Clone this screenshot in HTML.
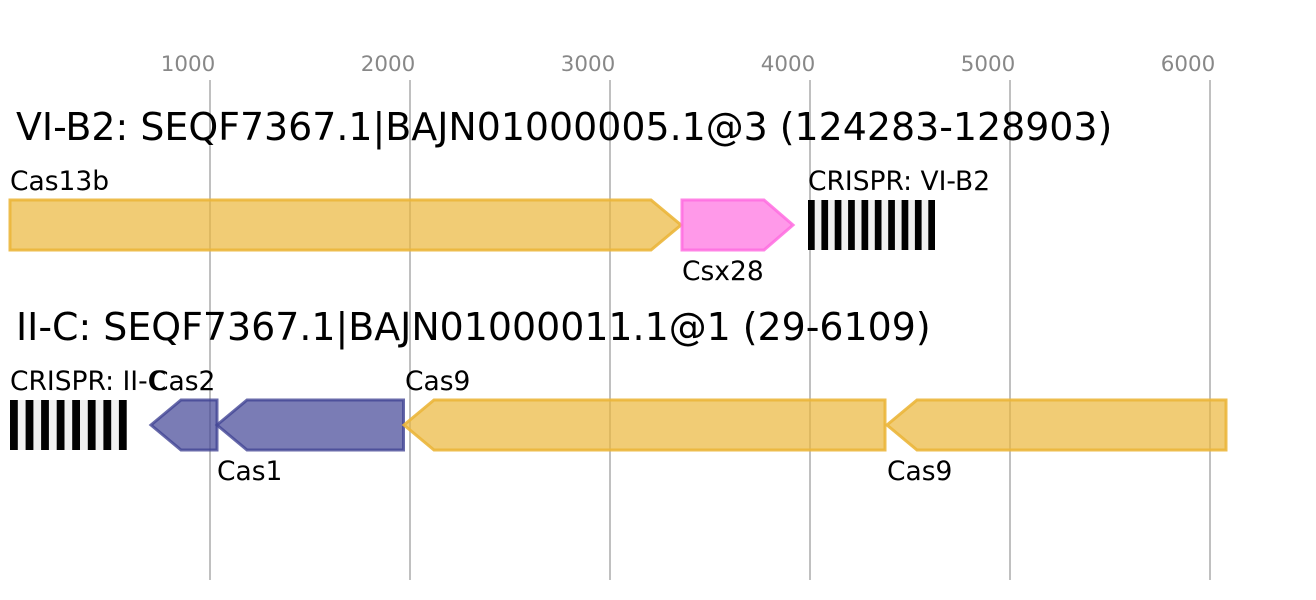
<!DOCTYPE html>
<html>
<head>
<meta charset="utf-8">
<style>
  html, body { margin: 0; padding: 0; background: #ffffff; }
  svg { display: block; }
  text { font-family: "DejaVu Sans", "Liberation Sans", sans-serif; }
</style>
</head>
<body>
<svg width="1316" height="600" viewBox="0 0 1316 600" xmlns="http://www.w3.org/2000/svg">
  <rect x="0" y="0" width="1316" height="600" fill="#ffffff"/>

  <!-- grid lines -->
  <g stroke="#c0c0c0" stroke-width="2">
    <line x1="210" y1="80" x2="210" y2="580"/>
    <line x1="410" y1="80" x2="410" y2="580"/>
    <line x1="610" y1="80" x2="610" y2="580"/>
    <line x1="810" y1="80" x2="810" y2="580"/>
    <line x1="1010" y1="80" x2="1010" y2="580"/>
    <line x1="1210" y1="80" x2="1210" y2="580"/>
  </g>

  <!-- tick labels -->
  <g fill="#888888" font-size="21.4" text-anchor="middle">
    <text x="188" y="71">1000</text>
    <text x="388" y="71">2000</text>
    <text x="588" y="71">3000</text>
    <text x="788" y="71">4000</text>
    <text x="988" y="71">5000</text>
    <text x="1188" y="71">6000</text>
  </g>

  <!-- titles -->
  <text x="16" y="140" font-size="37.9" fill="#000">VI-B2: SEQF7367.1|BAJN01000005.1@3 (124283-128903)</text>
  <text x="16" y="340" font-size="37.9" fill="#000">II-C: SEQF7367.1|BAJN01000011.1@1 (29-6109)</text>

  <!-- Row 1 genes -->
  <path d="M10,200 L651,200 L681,225 L651,250 L10,250 Z" fill="rgba(235,182,59,0.7)" stroke="rgba(235,182,59,0.9)" stroke-width="3"/>
  <path d="M682,200 L764,200 L793,225 L764,250 L682,250 Z" fill="rgba(255,109,224,0.7)" stroke="rgba(255,109,224,0.85)" stroke-width="3"/>

  <!-- Row 1 CRISPR array -->
  <rect x="808" y="200" width="127" height="50" fill="#f0f0f0"/>
  <g fill="#000">
    <rect x="808.0" y="200" width="6.7" height="50"/>
    <rect x="821.4" y="200" width="6.7" height="50"/>
    <rect x="834.7" y="200" width="6.7" height="50"/>
    <rect x="848.1" y="200" width="6.7" height="50"/>
    <rect x="861.5" y="200" width="6.7" height="50"/>
    <rect x="874.8" y="200" width="6.7" height="50"/>
    <rect x="888.2" y="200" width="6.7" height="50"/>
    <rect x="901.6" y="200" width="6.7" height="50"/>
    <rect x="914.9" y="200" width="6.7" height="50"/>
    <rect x="928.3" y="200" width="6.7" height="50"/>
  </g>

  <!-- Row 1 labels -->
  <g font-size="26.5" fill="#000">
    <text x="10" y="190">Cas13b</text>
    <text x="808" y="190">CRISPR: VI-B2</text>
    <text x="682" y="280">Csx28</text>
  </g>

  <!-- Row 2 CRISPR array -->
  <rect x="10" y="400" width="116.7" height="50" fill="#f0f0f0"/>
  <g fill="#000">
    <rect x="10.0" y="400" width="7.8" height="50"/>
    <rect x="25.6" y="400" width="7.8" height="50"/>
    <rect x="41.1" y="400" width="7.8" height="50"/>
    <rect x="56.7" y="400" width="7.8" height="50"/>
    <rect x="72.2" y="400" width="7.8" height="50"/>
    <rect x="87.8" y="400" width="7.8" height="50"/>
    <rect x="103.4" y="400" width="7.8" height="50"/>
    <rect x="118.9" y="400" width="7.8" height="50"/>
  </g>

  <!-- Row 2 genes -->
  <path d="M217,400 L181,400 L151,425 L181,450 L217,450 Z" fill="rgba(66,69,149,0.7)" stroke="rgba(66,69,149,0.8)" stroke-width="3"/>
  <path d="M403.5,400 L247,400 L217,425 L247,450 L403.5,450 Z" fill="rgba(66,69,149,0.7)" stroke="rgba(66,69,149,0.8)" stroke-width="3"/>
  <path d="M885,400 L434,400 L404,425 L434,450 L885,450 Z" fill="rgba(235,182,59,0.7)" stroke="rgba(235,182,59,0.9)" stroke-width="3"/>
  <path d="M1226,400 L917,400 L887,425 L917,450 L1226,450 Z" fill="rgba(235,182,59,0.7)" stroke="rgba(235,182,59,0.9)" stroke-width="3"/>

  <!-- Row 2 labels -->
  <g font-size="26.5" fill="#000">
    <text x="10" y="390">CRISPR: II-C</text>
    <text x="150" y="390">Cas2</text>
    <text x="405" y="390">Cas9</text>
    <text x="217" y="480">Cas1</text>
    <text x="887" y="480">Cas9</text>
  </g>
</svg>
</body>
</html>
